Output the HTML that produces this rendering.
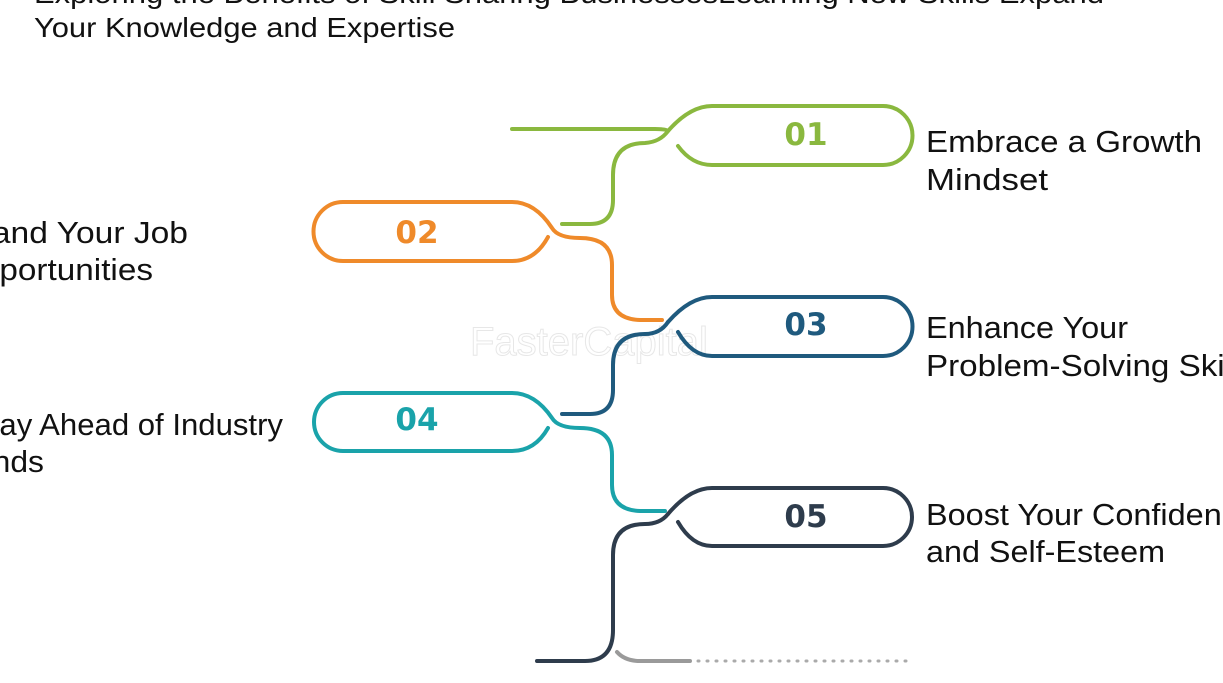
<!DOCTYPE html>
<html><head><meta charset="utf-8"><style>
html,body{margin:0;padding:0;background:#fff;width:1223px;height:683px;overflow:hidden}
svg{display:block}
.t{font-family:"Liberation Sans",sans-serif;font-size:31px;fill:#111}
.n{font-family:"DejaVu Sans","Liberation Sans",sans-serif;font-size:31px;font-weight:bold}
</style></head><body>
<svg width="1223" height="683" viewBox="0 0 1223 683" xmlns="http://www.w3.org/2000/svg">
<text x="34" y="3" font-family="Liberation Sans,sans-serif" font-size="28" fill="#111" textLength="1070" lengthAdjust="spacingAndGlyphs">Exploring the Benefits of Skill Sharing BusinessesLearning New Skills Expand</text>
<text x="34" y="37" font-family="Liberation Sans,sans-serif" font-size="28" fill="#111" textLength="421" lengthAdjust="spacingAndGlyphs">Your Knowledge and Expertise</text>

<text x="470" y="355" font-family="Liberation Sans,sans-serif" font-size="40" fill="none" stroke="#ddd" stroke-width="1" opacity="0.7">FasterCapital</text>

<g fill="none" stroke-width="4" stroke-linecap="round">
<path d="M512 129 H655 Q666 129 668 131 Q690 106 712 106 H883 A29.5 29.5 0 0 1 883 165 H712 Q692 165 678 146" stroke="#8ab83f"/>
<path d="M668 131 Q660 142 645 143 Q613 143 613 175 V200 Q613 224 590 224 H562" stroke="#8ab83f"/>
<path d="M548 237 Q535 261 512 261 H343 A29.5 29.5 0 0 1 343 202 H512 Q535 202 552 228 Q558 238 580 238 Q612 238 612 265 V295 Q612 319 640 320 H662" stroke="#ef8a2a"/>
<path d="M668 322 Q690 297 712 297 H883 A29.5 29.5 0 0 1 883 356 H712 Q692 356 678 332" stroke="#1f5a7e"/>
<path d="M668 322 Q660 334 645 334 Q613 334 613 365 V390 Q613 414 590 414 H562" stroke="#1f5a7e"/>
<path d="M548 428 Q535 451 512 451 H343 A29 29 0 0 1 343 393 H512 Q535 393 552 418 Q558 428 580 428 Q612 428 612 455 V485 Q612 510 640 511 H665" stroke="#1aa3aa"/>
<path d="M668 514 Q690 488 712 488 H883 A29 29 0 0 1 883 546 H712 Q692 546 678 522" stroke="#2e3c4c"/>
<path d="M668 514 Q660 524 645 524 Q613 524 613 555 V630 Q613 661 585 661 H537" stroke="#2e3c4c"/>
<path d="M617 652 Q625 661 640 661 H690" stroke="#9a9a9a"/>
<path d="M698 661 H912" stroke="#aaa" stroke-width="3" stroke-dasharray="1 8"/>
</g>

<text class="n" x="806" y="145" text-anchor="middle" fill="#8ab83f">01</text>
<text class="n" x="417" y="243" text-anchor="middle" fill="#ef8a2a">02</text>
<text class="n" x="806" y="335" text-anchor="middle" fill="#1f5a7e">03</text>
<text class="n" x="417" y="430" text-anchor="middle" fill="#1aa3aa">04</text>
<text class="n" x="806" y="527" text-anchor="middle" fill="#2e3c4c">05</text>

<text class="t" x="926" y="152" textLength="276" lengthAdjust="spacingAndGlyphs">Embrace a Growth</text>
<text class="t" x="926" y="190" textLength="122" lengthAdjust="spacingAndGlyphs">Mindset</text>
<text class="t" x="926" y="338" textLength="202" lengthAdjust="spacingAndGlyphs">Enhance Your</text>
<text class="t" x="926" y="376" textLength="330" lengthAdjust="spacingAndGlyphs">Problem-Solving Skills</text>
<text class="t" x="926" y="525" textLength="330" lengthAdjust="spacingAndGlyphs">Boost Your Confidence</text>
<text class="t" x="926" y="562" textLength="239" lengthAdjust="spacingAndGlyphs">and Self-Esteem</text>

<text class="t" x="-66" y="243" textLength="254" lengthAdjust="spacingAndGlyphs">Expand Your Job</text>
<text class="t" x="-45" y="280" textLength="198" lengthAdjust="spacingAndGlyphs">Opportunities</text>
<text class="t" x="-30" y="435" textLength="313" lengthAdjust="spacingAndGlyphs">Stay Ahead of Industry</text>
<text class="t" x="-54" y="472" textLength="98" lengthAdjust="spacingAndGlyphs">Trends</text>
</svg>
</body></html>
